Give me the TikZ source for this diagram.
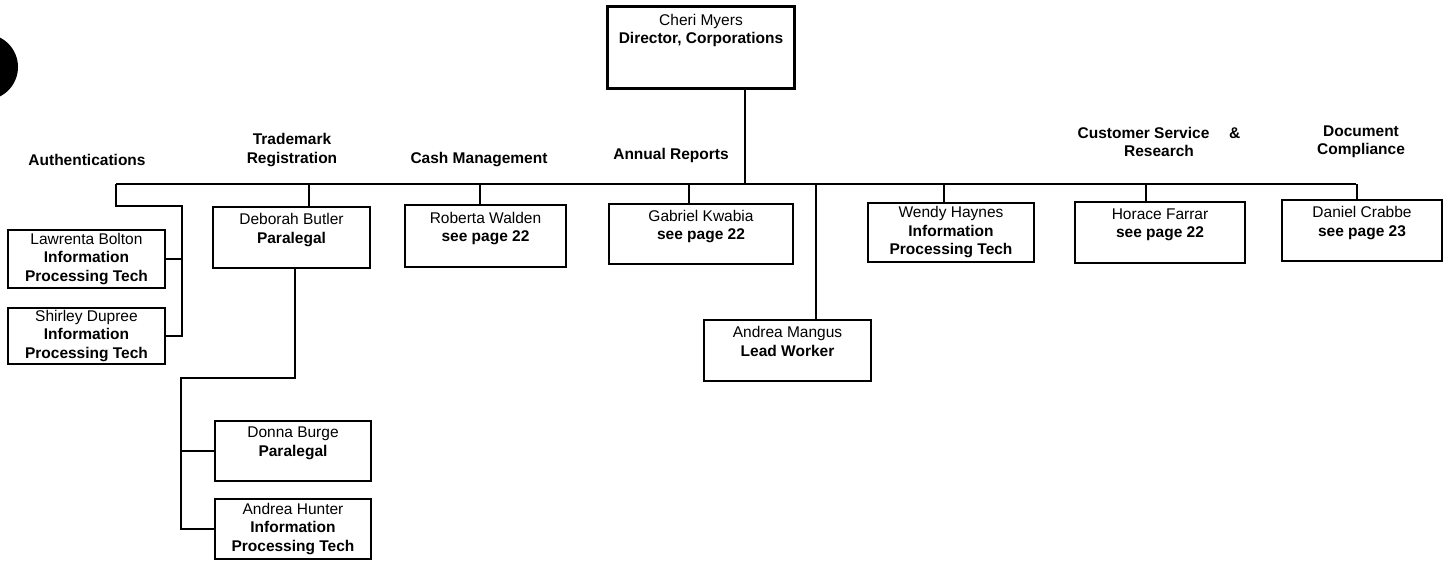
\documentclass[tikz,border=0pt]{standalone}
\usepackage{fontspec}
\setmainfont{Liberation Sans}
\newcommand{\busy}{184}
\newcommand{\boxfont}{\fontsize{15.5}{18.5}\selectfont}
\tikzset{
	post/.style={draw, line width=2pt, anchor=north west, align=center, inner sep=2pt, font=\boxfont},
	dept/.style={align=center, font=\boxfont\bfseries},
	wire/.style={line width=2pt}
}

\begin{document}
\begin{tikzpicture}[x=1pt,y=-1pt]
	
	\useasboundingbox (0,0) rectangle (1448,562);
	\clip (0,0) rectangle (1448,562);
	\fill (-15,67) circle (33);
	
	\node[post, line width=3pt, minimum width=187pt, minimum height=82pt] (cm) at (606,5) {Cheri Myers\\\textbf{Director, Corporations}\\~\\~};
	
	\foreach \x/\y/\n/\t in {87/160/auth/Authentications, 292/150/tm/Trademark\\Registration, 479/160/cash/Cash Management, 671/155/annual/Annual Reports, 1159/142/cs/Customer Service \quad\&\\Research, 1361/142/doc/Document\\Compliance}
	{
		\node[dept] (\n) at (\x,\y) {\t};
	}
	
	\node[post, minimum width=157pt, minimum height=58pt] (lb) at (7,229) {Lawrenta Bolton\\\textbf{Information}\\\textbf{Processing Tech}};
	\node[post, minimum width=157pt, minimum height=56pt] (sd) at (7,307) {Shirley Dupree\\\textbf{Information}\\\textbf{Processing Tech}};
	\node[post, minimum width=157pt, minimum height=61pt] (db) at (212,206) {Deborah Butler\\\textbf{Paralegal}\\~};
	\node[post, minimum width=156pt, minimum height=60pt] (dbg) at (214,420) {Donna Burge\\\textbf{Paralegal}\\~};
	\node[post, minimum width=156pt, minimum height=60pt] (ha) at (214,498) {Andrea Hunter\\\textbf{Information}\\\textbf{Processing Tech}};
	\node[post, minimum width=161pt, minimum height=62pt] (rw) at (404,204) {Roberta Walden\\\textbf{see page 22}\\~};
	\node[post, minimum width=184pt, minimum height=60pt] (gk) at (608,203) {Gabriel Kwabia\\\textbf{see page 22}\\~};
	\node[post, minimum width=167pt, minimum height=61pt] (am) at (703,319) {Andrea Mangus\\\textbf{Lead Worker}\\~};
	\node[post, minimum width=166pt, minimum height=59pt] (wh) at (867,202) {Wendy Haynes\\\textbf{Information}\\\textbf{Processing Tech}};
	\node[post, minimum width=170pt, minimum height=61pt] (hf) at (1074,201) {Horace Farrar\\\textbf{see page 22}\\~};
	\node[post, minimum width=160pt, minimum height=61pt] (dc) at (1281,199) {Daniel Crabbe\\\textbf{see page 23}\\~};
	
	\coordinate (busL) at (116,\busy);
	\coordinate (busR) at (1356,\busy);
	\coordinate (authT) at (182,206);
	\coordinate (tmB) at (181,378);
	
	\draw[wire] (busL) -- (busR);
	\draw[wire] ([xshift=44pt]cm.south) -- ([xshift=44pt]cm.south |- busL);
	\foreach \n/\dx in {db/17,rw/-6,gk/-12,am/28,wh/-7,hf/-14,dc/-5}
	{
		\draw[wire] ([xshift=\dx pt]\n.north) -- ([xshift=\dx pt]\n.north |- busL);
	}
	
	\draw[wire] (busL) |- (authT) -- (authT |- sd.east) -- (sd.east);
	\draw[wire] (lb.east) -- (lb.east -| authT);
	
	\draw[wire] ([xshift=3pt]db.south) |- (tmB) -- (tmB |- ha.west) -- (ha.west);
	\draw[wire] (dbg.west) -- (dbg.west -| tmB);

\end{tikzpicture}
\end{document}
